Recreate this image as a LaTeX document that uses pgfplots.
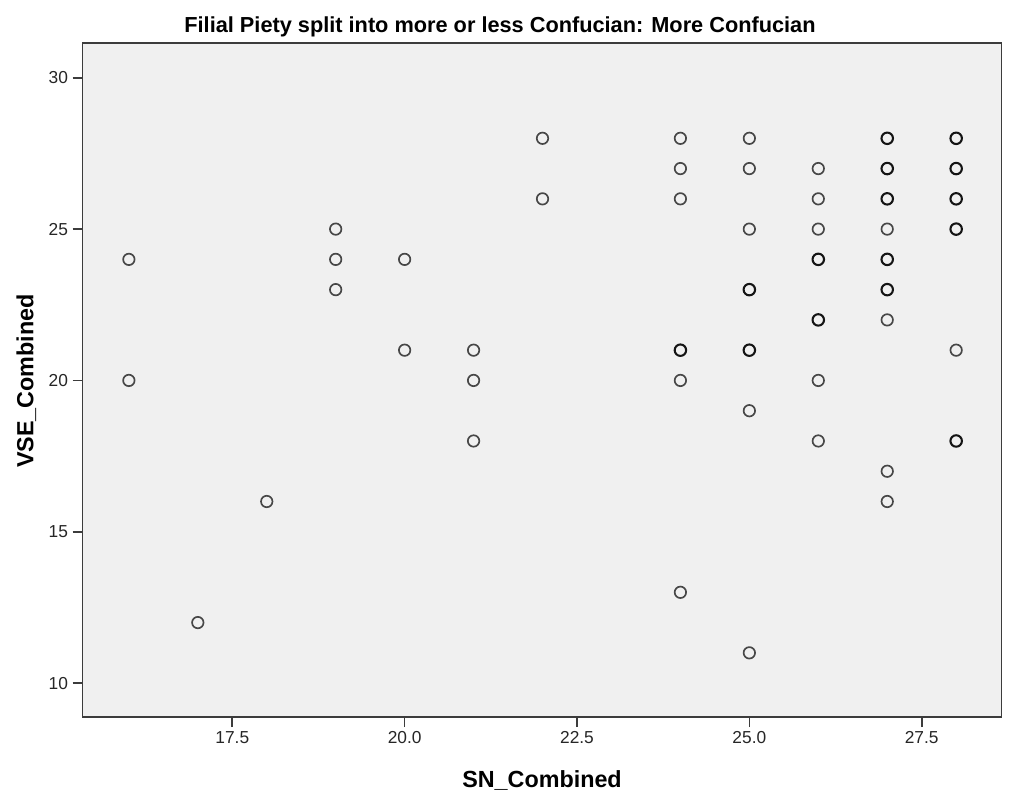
\documentclass[border=0pt]{standalone}
\usepackage{pgfplots}
\pgfplotsset{compat=1.18}
\usepackage{fontspec}
\setmainfont{Liberation Sans}
\definecolor{bgc}{HTML}{F0F0F0}
\definecolor{axc}{HTML}{3C3C3C}
\begin{document}
\begin{tikzpicture}
\path[use as bounding box] (0pt,0pt) rectangle (756.75pt,-606.75pt);
\begin{axis}[
  at={(62.0pt,-537.75pt)}, anchor=south west,
  scale only axis, width=689.25pt, height=505.3pt,
  xmin=15.33, xmax=28.66, ymin=8.88, ymax=31.14,
  axis background/.style={fill=bgc},
  axis line style={draw=axc, line width=1.2pt},
  xtick={17.5,20,22.5,25,27.5},
  ytick={10,15,20,25,30},
  xtick pos=bottom, ytick pos=left,
  tick align=outside,
  major tick length=7.5pt,
  every tick/.style={draw=axc, line width=1.2pt},
  /pgf/number format/assume math mode=true,
  xticklabel style={/pgf/number format/fixed, /pgf/number format/fixed zerofill, /pgf/number format/precision=1, font=\fontsize{13}{15}\selectfont, text=black!85},
  yticklabel style={font=\fontsize{13}{15}\selectfont, text=black!85},
  clip=false,
]
\addplot[only marks, mark=o, mark size=4.3pt, mark options={draw=black!72, line width=1.25pt}] coordinates {
(16,24) (16,20) (17,12) (18,16) (19,25) (19,24) (19,23) (20,24) (20,21)
(21,21) (21,20) (21,18) (22,28) (22,26)
(24,28) (24,27) (24,26) (24,20) (24,13)
(25,28) (25,27) (25,25) (25,19) (25,11)
(26,27) (26,26) (26,25) (26,20) (26,18)
(27,25) (27,22) (27,17) (27,16)
(28,21)
};
\addplot[only marks, mark=o, mark size=4.3pt, mark options={draw=black!92, line width=1.55pt}] coordinates {
(24,21) (25,23) (25,21) (26,24) (26,22)
(27,28) (27,27) (27,26) (27,24) (27,23)
(28,28) (28,27) (28,26) (28,25) (28,18)
};
\end{axis}
\node[anchor=base, font=\fontsize{16.3}{18}\selectfont\bfseries] at (375pt,-24.2pt) {Filial Piety split into more or less Confucian: More Confucian};
\node[anchor=base, font=\fontsize{17.5}{20}\selectfont\bfseries] at (406.5pt,-590.25pt) {SN\_Combined};
\node[anchor=base, rotate=90, font=\fontsize{17.5}{20}\selectfont\bfseries] at (25pt,-285.75pt) {VSE\_Combined};
\end{tikzpicture}
\end{document}
